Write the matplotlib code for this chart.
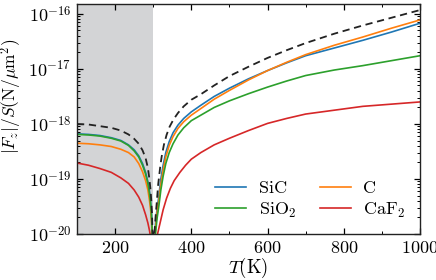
import numpy as np
import matplotlib
matplotlib.use("Agg")
import matplotlib.pyplot as plt
from matplotlib.ticker import FuncFormatter, MultipleLocator, LogLocator

plt.rcParams['mathtext.fontset'] = 'cm'
plt.rcParams['font.family'] = 'serif'
plt.rcParams['font.serif'] = ['cmr10', 'DejaVu Serif']
plt.rcParams['axes.unicode_minus'] = False

# --- data (log10 of |F_z|/S) ---
T_total = [100, 130, 160, 190, 215, 235, 250, 262, 272, 280, 286, 290, 293, 295, 297, 299,
           300, 301, 303, 306, 309, 313, 318, 322, 328, 335, 343, 353, 365, 380, 400, 425,
           460, 500, 550, 600, 650, 700, 775, 850, 925, 1000]
lg_total = [-18.00, -18.01, -18.04, -18.07, -18.12, -18.19, -18.27, -18.36, -18.48, -18.62,
            -18.80, -19.00, -19.20, -19.40, -19.65, -20.20,
            -21.0, -20.5, -20.0, -19.70, -19.45, -19.10, -18.80, -18.60, -18.38, -18.20,
            -18.05, -17.92, -17.80, -17.68, -17.56, -17.46, -17.30, -17.13, -16.96, -16.80,
            -16.66, -16.53, -16.36, -16.21, -16.07, -15.93]

T_sic = [100, 130, 160, 190, 215, 235, 250, 262, 272, 280, 286, 290, 293, 295, 297, 299,
         300, 301, 303, 306, 310, 315, 320, 326, 333, 342, 352, 365, 380, 400, 425, 460,
         500, 550, 600, 650, 700, 775, 850, 925, 1000]
lg_sic = [-18.18, -18.19, -18.21, -18.25, -18.30, -18.38, -18.47, -18.58, -18.72, -18.88,
          -19.05, -19.22, -19.40, -19.58, -19.85, -20.40,
          -21.0, -20.6, -20.15, -19.80, -19.55, -19.30, -19.00, -18.75, -18.52, -18.32,
          -18.16, -18.02, -17.90, -17.78, -17.66, -17.50, -17.35, -17.18, -17.03, -16.89,
          -16.76, -16.62, -16.48, -16.33, -16.17]

T_c = [100, 130, 160, 190, 215, 235, 250, 262, 272, 280, 286, 290, 293, 295, 297, 299,
       300, 301, 303, 306, 310, 315, 320, 326, 333, 342, 352, 365, 380, 400, 425, 460,
       500, 550, 600, 650, 700, 775, 850, 925, 1000]
lg_c = [-18.35, -18.36, -18.38, -18.41, -18.46, -18.52, -18.60, -18.72, -18.87, -19.03,
        -19.20, -19.38, -19.55, -19.72, -19.98, -20.60,
        -21.0, -20.7, -20.25, -19.90, -19.62, -19.38, -19.10, -18.84, -18.60, -18.39,
        -18.23, -18.08, -17.96, -17.84, -17.72, -17.55, -17.39, -17.20, -17.03, -16.88,
        -16.74, -16.57, -16.42, -16.26, -16.11]

T_sio2 = [100, 130, 160, 190, 215, 235, 250, 262, 272, 280, 286, 290, 293, 295, 297, 299,
          300, 301, 303, 306, 310, 315, 320, 326, 333, 342, 352, 365, 380, 400, 425, 460,
          500, 550, 600, 650, 700, 775, 850, 925, 1000]
lg_sio2 = [-18.19, -18.20, -18.22, -18.26, -18.31, -18.39, -18.49, -18.60, -18.75, -18.91,
           -19.08, -19.26, -19.44, -19.62, -19.90, -20.50,
           -21.0, -20.8, -20.35, -20.00, -19.72, -19.48, -19.20, -18.95, -18.72, -18.52,
           -18.36, -18.20, -18.07, -17.94, -17.84, -17.70, -17.58, -17.45, -17.33, -17.22,
           -17.12, -17.02, -16.94, -16.85, -16.76]

T_caf2 = [100, 130, 160, 190, 215, 235, 250, 262, 272, 280, 286, 290, 293, 296, 300,
          303, 307, 312, 318, 326, 335, 345, 355, 370, 385, 400, 425, 460, 500, 550, 600,
          650, 700, 775, 850, 925, 1000]
lg_caf2 = [-18.71, -18.75, -18.81, -18.88, -18.98, -19.08, -19.20, -19.33, -19.48, -19.65,
           -19.80, -19.93, -20.05, -20.30, -21.0,
           -20.60, -20.20, -19.98, -19.80, -19.56, -19.35, -19.17, -19.03, -18.88, -18.75,
           -18.64, -18.52, -18.38, -18.26, -18.12, -17.99, -17.90, -17.82, -17.75, -17.68,
           -17.64, -17.60]

labels = ['SiC', 'C', r'SiO$_2$', r'CaF$_2$']
colors = ['#1f77b4', '#ff7f0e', '#2ca02c', '#d62728']

fig = plt.figure(figsize=(4.36, 2.80), dpi=100)
ax = fig.add_axes([77/436, 1-234/280, (420-77)/436, (234-4)/280])

ax.axvspan(100, 300, color='#d3d4d6', lw=0, zorder=0)

series = [(T_sic, lg_sic), (T_c, lg_c), (T_sio2, lg_sio2), (T_caf2, lg_caf2)]
handles = []
for (T, lg), lab, col in zip(series, labels, colors):
    h, = ax.plot(T, 10.0**np.array(lg), color=col, lw=1.2, label=lab, zorder=2)
    handles.append(h)
ax.plot(T_total, 10.0**np.array(lg_total), color='#222222', lw=1.3,
        linestyle=(0, (4, 2.6)), zorder=3)

ax.set_yscale('log')
ax.set_xlim(100, 1000)
ax.set_ylim(1e-20, 10**-15.82)

ax.xaxis.set_major_locator(MultipleLocator(200))
ax.xaxis.set_minor_locator(MultipleLocator(100))
ax.yaxis.set_major_locator(LogLocator(base=10, numticks=20))
ax.yaxis.set_minor_locator(LogLocator(base=10, subs=np.arange(2, 10), numticks=20))
ax.xaxis.set_major_formatter(FuncFormatter(lambda v, p: r'$%d$' % v))
ax.yaxis.set_major_formatter(FuncFormatter(lambda v, p: r'$10^{%d}$' % int(round(np.log10(v)))))

ax.tick_params(which='both', direction='in', top=True, right=True, labelsize=13)
ax.tick_params(which='major', length=4.5, width=0.9, pad=4)
ax.tick_params(which='minor', length=2.5, width=0.7)
for s in ax.spines.values():
    s.set_linewidth(1.0)
    s.set_color('#222222')

ax.set_xlabel(r'$T(\mathrm{K})$', fontsize=13.5, labelpad=0)
ax.set_ylabel(r'$|F_z|/S(\mathrm{N}/\mu\mathrm{m}^2)$', fontsize=12.5)
ax.yaxis.set_label_coords(-0.155, 0.6)

ax.legend([handles[0], handles[2], handles[1], handles[3]],
          [labels[0], labels[2], labels[1], labels[3]],
          ncol=2, loc='lower right', frameon=False, fontsize=13,
          handlelength=1.7, columnspacing=1.3, handletextpad=0.7,
          labelspacing=0.25, borderaxespad=0.4)

fig.savefig('out.png', dpi=100)
